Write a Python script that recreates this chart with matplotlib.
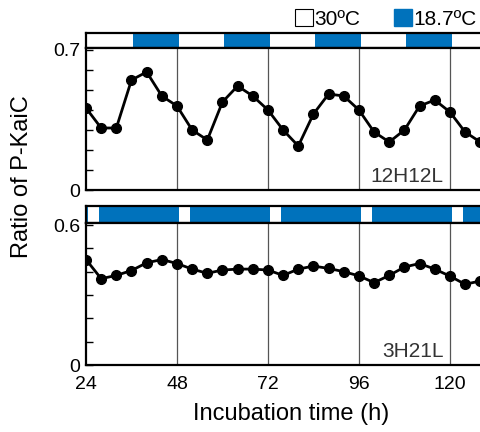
import numpy as np
import matplotlib.pyplot as plt
from matplotlib.patches import Patch

plt.rcParams['font.family'] = ['Liberation Sans', 'DejaVu Sans']

BLUE = "#0072BC"

# incubation time (h), one sample every 4 h
hours = [24, 28, 32, 36, 40, 44, 48, 52, 56, 60, 64, 68, 72, 76, 80,
         84, 88, 92, 96, 100, 104, 108, 112, 116, 120, 124, 128]

# ratio of P-KaiC, 12H12L cycle
p_kaic_12h = [0.41, 0.31, 0.31, 0.55, 0.59, 0.47, 0.42, 0.30, 0.25, 0.44,
              0.52, 0.47, 0.40, 0.30, 0.22, 0.38, 0.48, 0.47, 0.40, 0.29,
              0.24, 0.30, 0.42, 0.45, 0.39, 0.29, 0.24]

# ratio of P-KaiC, 3H21L cycle
p_kaic_3h = [0.452, 0.370, 0.384, 0.405, 0.438, 0.452, 0.435, 0.411, 0.393,
             0.407, 0.411, 0.411, 0.407, 0.384, 0.411, 0.424, 0.414, 0.400,
             0.382, 0.353, 0.384, 0.420, 0.435, 0.411, 0.381, 0.346, 0.360]

# temperature schedule: (start, end) of the 18.7 C (blue) periods
cold_12h = [(36.5, 48.5), (60.5, 72.5), (84.5, 96.5), (108.5, 120.5)]
# 3H21L: short 30 C windows, everything else cold
warm_3h = [(24.5, 27.5), (48.5, 51.5), (72.5, 75.5), (96.5, 99.5), (120.5, 123.5)]

x_ticks = [24, 48, 72, 96, 120]
XMIN, XMAX = 24, 128.2

fig = plt.figure(figsize=(4.81, 4.32), dpi=100)
left = 86 / 481
width = 1.0 - left


def px(y0, y1):
    return [left, 1 - y1 / 432, width, (y1 - y0) / 432]


def strip(rect, blue_spans):
    ax = fig.add_axes(rect)
    ax.set_xlim(XMIN, XMAX)
    ax.set_ylim(0, 1)
    for a, b in blue_spans:
        ax.axvspan(a, b, color=BLUE, lw=0)
    ax.set_xticks([])
    ax.set_yticks([])
    for s in ax.spines.values():
        s.set_linewidth(1.6)
    ax.spines['right'].set_visible(False)
    return ax


def panel(rect, y, ytop, yl, label, show_x):
    ax = fig.add_axes(rect)
    ax.plot(hours, y, "-o", color="black", lw=2, ms=7)
    ax.set_xlim(XMIN, XMAX)
    ax.set_ylim(0, ytop)
    for t in x_ticks[1:]:
        ax.axvline(t, color="#555555", lw=0.9, zorder=0)
    ax.set_yticks([0, yl])
    ax.set_yticklabels(["0", f"{yl:g}"])
    ax.set_yticks(np.arange(0.1, yl, 0.1), minor=True)
    ax.tick_params(axis="y", which="both", direction="in", length=5, width=1,
                   labelsize=14, pad=4)
    ax.set_xticks(x_ticks)
    ax.tick_params(axis="x", length=0, labelsize=14, pad=8, labelbottom=show_x)
    for s in ax.spines.values():
        s.set_linewidth(1.6)
    ax.spines['right'].set_visible(False)
    ax.text(118.3, 0.04 * yl / 0.7, label, ha="right", va="baseline",
            fontsize=15, color="#333333")
    return ax


# 12H12L
strip(px(33, 48), cold_12h)
panel(px(48, 190), p_kaic_12h, 0.71, 0.7, "12H12L", False)

# 3H21L: blue everywhere except warm windows
cold_3h = []
prev = XMIN
for a, b in warm_3h:
    if a > prev:
        cold_3h.append((prev, a))
    prev = b
cold_3h.append((prev, XMAX))
strip(px(206, 223), cold_3h)
panel(px(223, 365), p_kaic_3h, 0.6086, 0.6, "3H21L", True)

fig.text(22 / 481, 1 - 177 / 432, "Ratio of P-KaiC", rotation=90,
         ha="center", va="center", fontsize=17)
fig.text(291 / 481, 1 - 414 / 432, "Incubation time (h)",
         ha="center", va="center", fontsize=17)

handles = [Patch(facecolor="white", edgecolor="black", lw=0.8),
           Patch(facecolor=BLUE, edgecolor=BLUE)]
fig.legend(handles, ["30ºC", "18.7ºC"], loc="upper right",
           bbox_to_anchor=(477 / 481, 1 - 9 / 432), ncol=2, frameon=False,
           fontsize=15, handlelength=0.85, handleheight=0.85,
           handletextpad=0.1, columnspacing=1.6, borderpad=0,
           borderaxespad=0)

fig.savefig("out.png", dpi=100)
